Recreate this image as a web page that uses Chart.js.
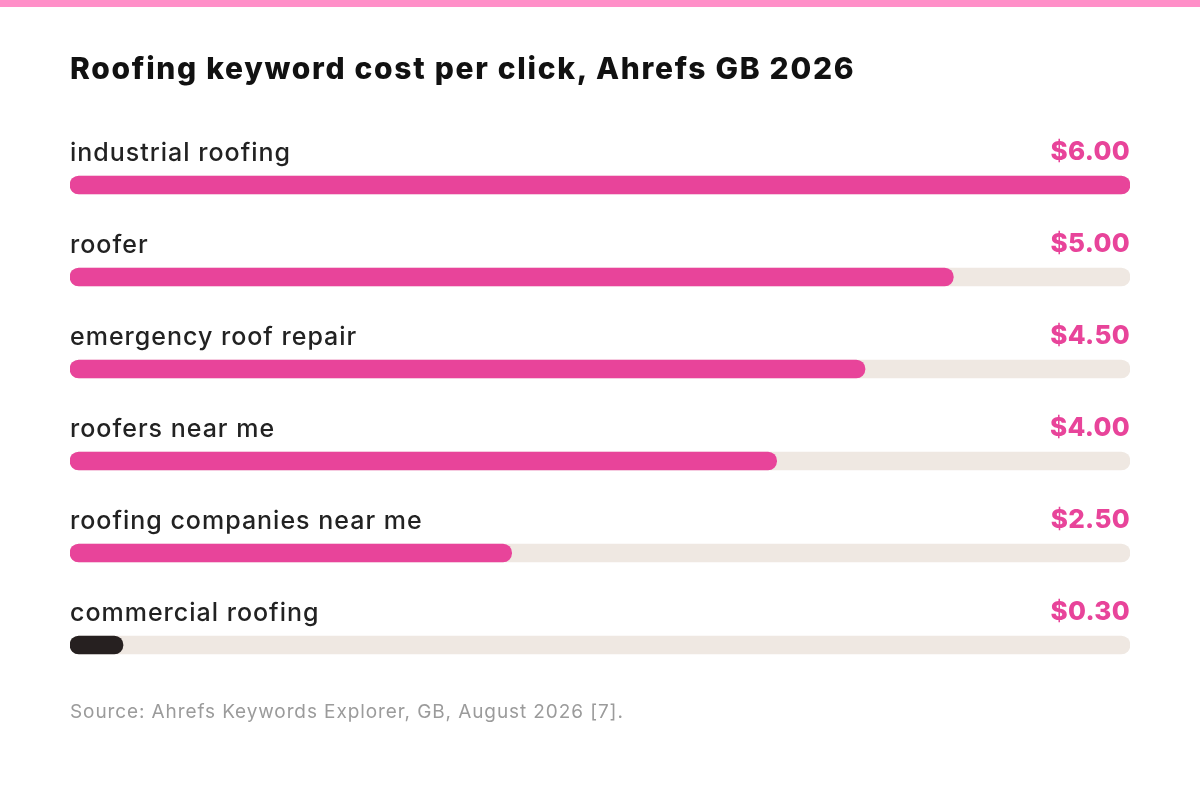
<!DOCTYPE html>
<html lang="en">
<head>
    <meta charset="UTF-8">
    <title>Roofing keyword cost per click</title>
    <script src="https://cdn.jsdelivr.net/npm/chart.js"></script>
    <style>
        body {
            margin: 0;
            background: #fff;
            font-family: Inter, "Noto Sans", sans-serif;
        }

        .page {
            position: relative;
            width: 1200px;
            height: 793px;
            overflow: hidden;
        }

        .top-strip {
            position: absolute;
            left: 0;
            top: 0;
            width: 100%;
            height: 7px;
            background: #ff8fc8;
        }

        h1 {
            position: absolute;
            left: 70px;
            top: 50px;
            margin: 0;
            font-size: 30px;
            font-weight: 800;
            color: #111;
            letter-spacing: 1.7px;
            white-space: nowrap;
        }

        .chart-box {
            position: absolute;
            left: 0;
            top: 0;
            width: 1200px;
            height: 793px;
        }

        .source {
            position: absolute;
            left: 70px;
            top: 700px;
            font-size: 19px;
            color: #9b9b9b;
            letter-spacing: 0.9px;
            white-space: nowrap;
        }
    </style>
</head>
<body>
<div class="page">
    <div class="top-strip"></div>
    <div class="chart-box"><canvas id="cpc-chart"></canvas></div>
    <h1>Roofing keyword cost per click, Ahrefs GB 2026</h1>
    <div class="source">Source: Ahrefs Keywords Explorer, GB, August 2026 [7].</div>
</div>
<script>
    // data
    const keywords = ['industrial roofing', 'roofer', 'emergency roof repair', 'roofers near me', 'roofing companies near me', 'commercial roofing'];
    const cpcValues = [6.00, 5.00, 4.50, 4.00, 2.50, 0.30];
    const scaleMax = 6;

    const PINK = '#e8449a';
    const DARK = '#262020';
    const TRACK = '#efe8e2';

    // labels above each bar: keyword on the left, price on the right
    const rowLabels = {
        id: 'rowLabels',
        afterDatasetsDraw(chart) {
            const { ctx, chartArea, scales: { y } } = chart;
            ctx.save();
            ctx.textBaseline = 'middle';
            keywords.forEach((name, i) => {
                const cy = y.getPixelForValue(i) - 32;
                ctx.font = '500 25px Inter, "Noto Sans", sans-serif';
                ctx.letterSpacing = '1px';
                ctx.fillStyle = '#222';
                ctx.textAlign = 'left';
                ctx.fillText(name, chartArea.left, cy);
                ctx.font = '800 26px Inter, "Noto Sans", sans-serif';
                ctx.letterSpacing = '0.3px';
                ctx.fillStyle = PINK;
                ctx.textAlign = 'right';
                ctx.fillText('$' + cpcValues[i].toFixed(2), chartArea.right, cy - 1);
            });
            ctx.restore();
        }
    };

    new Chart(document.getElementById('cpc-chart'), {
        type: 'bar',
        data: {
            labels: keywords,
            datasets: [
                {
                    data: cpcValues,
                    backgroundColor: c => c.dataIndex === keywords.length - 1 ? DARK : PINK,
                    barThickness: 18,
                    borderRadius: 9,
                    borderSkipped: false,
                    grouped: false,
                    order: 0
                },
                {
                    data: keywords.map(() => scaleMax),
                    backgroundColor: TRACK,
                    barThickness: 18,
                    borderRadius: 9,
                    borderSkipped: false,
                    grouped: false,
                    order: 1
                }
            ]
        },
        options: {
            indexAxis: 'y',
            responsive: true,
            maintainAspectRatio: false,
            animation: false,
            layout: { padding: { left: 70, right: 70, top: 139, bottom: 102 } },
            scales: {
                x: { display: false, min: 0, max: scaleMax },
                y: { display: false }
            },
            plugins: {
                legend: { display: false },
                tooltip: { enabled: false }
            }
        },
        plugins: [rowLabels]
    });
</script>
</body>
</html>
